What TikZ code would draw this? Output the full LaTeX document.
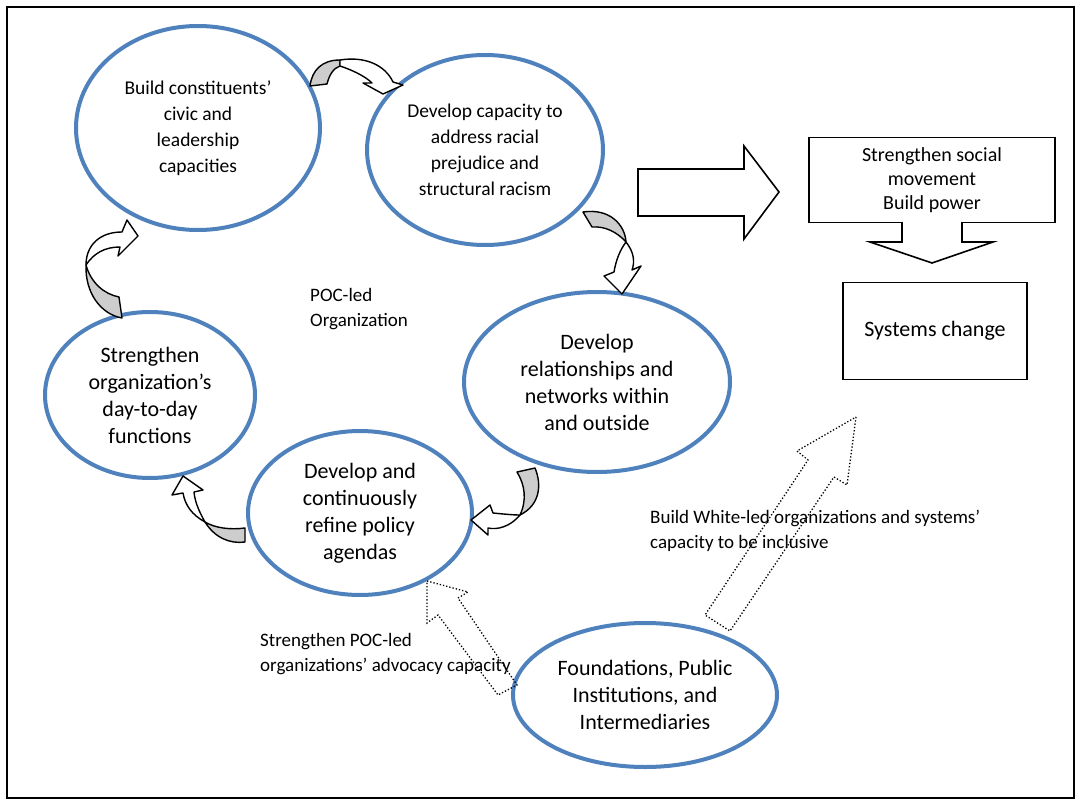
\documentclass[tikz,border=0pt]{standalone}
\usepackage{fontspec}
\setmainfont{Carlito}
\usetikzlibrary{shapes.geometric}
\definecolor{ellblue}{RGB}{79,129,189}
\definecolor{arrgray}{RGB}{205,205,205}
\begin{document}
\begin{tikzpicture}[x=1pt,y=-1pt,
  bubble/.style={ellipse, draw=ellblue, line width=4pt, inner sep=0pt, align=center},
  smalltxt/.style={font={\fontsize{19.5}{26}\selectfont}},
  bigtxt/.style={font={\fontsize{22}{27}\selectfont}},
  lbltxt/.style={font={\fontsize{19}{25}\selectfont}, align=left, inner sep=0pt},
  boxstyle/.style={draw, line width=1.6pt, inner sep=0pt, align=center},
  curvback/.style={draw=black, fill=arrgray, line width=1.4pt, line join=round},
  curvfront/.style={draw=black, fill=white, line width=1.4pt, line join=round},
  blockarrow/.style={draw=black, fill=white, line width=1.6pt, line join=miter},
  dotarrow/.style={draw=black, dotted, line width=1.3pt}]
\useasboundingbox (0,0) rectangle (1081,805);
\fill[white] (0,0) rectangle (1081,805);
\draw[line width=1.8pt] (7,7) rectangle (1074,798);

% ellipses
\node[bubble, smalltxt, minimum width=244pt, minimum height=204pt] (e1) at (198,128)
  {Build constituents'\\civic and\\leadership\\capacities};
\node[bubble, smalltxt, minimum width=236pt, minimum height=190pt] (e2) at (485,150)
  {Develop capacity to\\address racial\\prejudice and\\structural racism};
\node[bubble, bigtxt, minimum width=266pt, minimum height=180pt] (e3) at (597,382)
  {Develop\\relationships and\\networks within\\and outside};
\node[bubble, bigtxt, minimum width=224pt, minimum height=164pt] (e4) at (360,513)
  {Develop and\\continuously\\refine policy\\agendas};
\node[bubble, bigtxt, minimum width=210pt, minimum height=166pt] (e5) at (150,395)
  {Strengthen\\organization's\\day-to-day\\functions};
\node[bubble, bigtxt, minimum width=264pt, minimum height=144pt] (e6) at (645,695)
  {Foundations, Public\\Institutions, and\\Intermediaries};

\node[lbltxt, anchor=north west] (poc) at (310,288) {POC-led\\Organization};

% boxes
\node[boxstyle, font={\fontsize{20}{24}\selectfont}, minimum width=246pt, minimum height=85pt] (b1) at (932,180)
  {Strengthen social\\movement\\Build power};
\node[boxstyle, font={\fontsize{22}{26}\selectfont}, minimum width=184pt, minimum height=97pt] (b2) at (935,331)
  {Systems change};

% big right arrow
\draw[blockarrow] (638,169) -- (744,169) -- (744,146) -- (779,192) -- (744,239) -- (744,216) -- (638,216) -- cycle;
% down arrow from box 1
\draw[blockarrow] (902,222) -- (902,242) -- (870,242) -- (932,263) -- (993,242) -- (962,242) -- (962,222);

% curved arrows
% left (e5 -> e1)
\draw[curvback] (86,265) .. controls (85,292) and (100,314) .. (122,318) -- (119,297) .. controls (104,294) and (91,283) .. (86,265) -- cycle;
\draw[curvfront] (86,265) .. controls (86,245) and (100,232) .. (122,232) -- (127,220) -- (138,236) -- (118,256) -- (120,247) .. controls (105,247) and (94,253) .. (86,265) -- cycle;
% top (e1 -> e2)
\draw[curvback] (340,60) .. controls (322,60) and (312,70) .. (310,86) -- (327,84) .. controls (329,76) and (333,68) .. (340,66) -- cycle;
\draw[curvfront] (340,60) .. controls (365,56) and (385,65) .. (393,82) -- (403,85) -- (383,94) -- (363,83) -- (372,83) .. controls (365,76) and (352,70) .. (340,66) -- cycle;
% right (e2 -> e3)
\draw[curvback] (583,212) .. controls (610,208) and (625,225) .. (626,242) .. controls (617,232) and (605,226) .. (592,227) -- cycle;
\draw[curvfront] (626,242) .. controls (634,252) and (635,262) .. (632,270) -- (641,266) -- (622,294) -- (604,276) -- (614,272) .. controls (616,260) and (620,250) .. (626,242) -- cycle;
% bottom right (e3 -> e4)
\draw[curvback] (517,472) .. controls (525,485) and (527,500) .. (520,515) .. controls (540,505) and (542,485) .. (535,468) -- cycle;
\draw[curvfront] (520,515) .. controls (510,527) and (497,530) .. (488,528) -- (488,535) -- (471,520) -- (490,505) -- (493,513) .. controls (503,514) and (513,515) .. (520,515) -- cycle;
% bottom left (e4 -> e5)
\draw[curvback] (205,522) .. controls (215,538) and (230,544) .. (245,542) -- (245,528) .. controls (230,530) and (215,528) .. (205,522) -- cycle;
\draw[curvfront] (205,522) .. controls (192,515) and (185,505) .. (183,493) -- (172,495) -- (183,476) -- (203,490) -- (194,492) .. controls (195,503) and (200,513) .. (205,522) -- cycle;

% dotted arrows
\draw[dotarrow] (427,581) -- (468,592) -- (458,598) -- (517,685) -- (498,695) -- (438,615) -- (427,623) -- cycle;
\draw[dotarrow] (856,417) -- (847,485) -- (834,477) -- (730,631) -- (705,615) -- (808,460) -- (797,451) -- cycle;

% labels
\node[lbltxt, anchor=north west] (l1) at (650,510) {Build White-led organizations and systems'\\capacity to be inclusive};
\node[lbltxt, anchor=north west] (l2) at (260,633) {Strengthen POC-led\\organizations' advocacy capacity};
\end{tikzpicture}
\end{document}
